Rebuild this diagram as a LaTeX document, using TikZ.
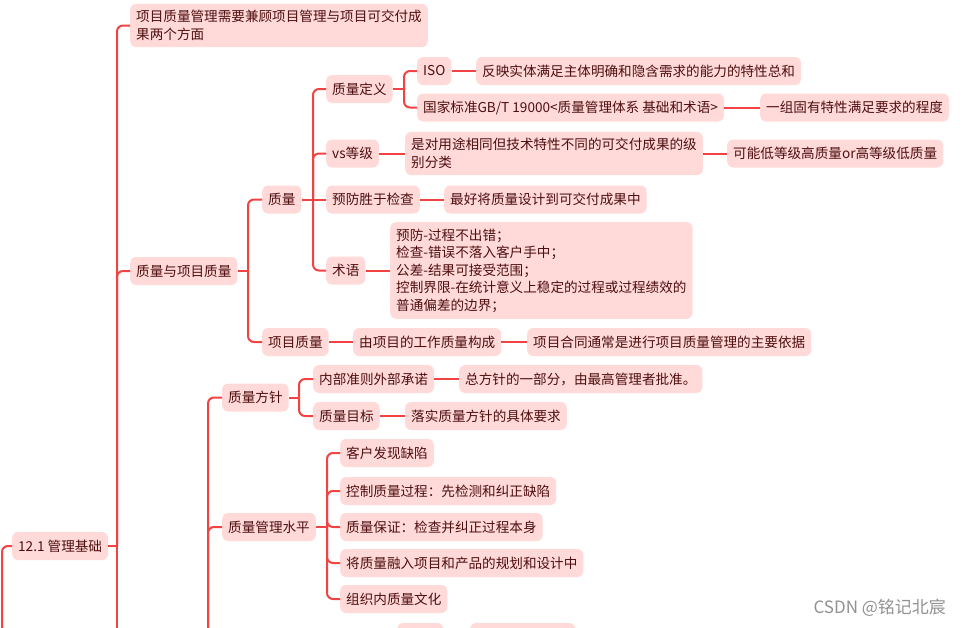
\documentclass[tikz,border=0pt]{standalone}
\usepackage{fontspec}
\setmainfont{Noto Sans CJK SC}
\usepackage{tikz}
\definecolor{linkred}{RGB}{242,66,66}
\definecolor{boxpink}{RGB}{255,218,216}
\definecolor{textbrown}{RGB}{78,14,14}
\definecolor{markgray}{RGB}{145,145,145}

\begin{document}
\begin{tikzpicture}[x=1pt, y=-1pt,
    topic/.style={fill=boxpink, text=textbrown, rounded corners=6pt, anchor=west,
        inner xsep=6pt, inner ysep=6.5pt, minimum height=28pt, align=left,
        font=\fontsize{13.6}{17.5}\selectfont},
    link/.style={draw=linkred, line width=2pt, rounded corners=6pt}]
    \useasboundingbox (0,0) rectangle (968,627);
    \clip (0,0) rectangle (968,627);

    \node[topic] (root) at (12,546) {12.1 管理基础};
    \node[topic] (both) at (130,25.5) {项目质量管理需要兼顾项目管理与项目可交付成\\果两个方面};
    \node[topic] (qpq) at (130,271) {质量与项目质量};
    \node[topic] (q) at (262,199.5) {质量};
    \node[topic] (pq) at (262,342) {项目质量};
    \node[topic] (qdef) at (326,89) {质量定义};
    \node[topic] (vs) at (326,153.5) {vs等级};
    \node[topic] (prevent) at (326,199.5) {预防胜于检查};
    \node[topic] (term) at (326,270.5) {术语};
    \node[topic] (iso) at (417,71) {ISO};
    \node[topic] (isodef) at (476,71) {反映实体满足主体明确和隐含需求的能力的特性总和};
    \node[topic] (gb) at (417,107.5) {国家标准GB/T 19000<质量管理体系 基础和术语>};
    \node[topic] (gbdef) at (760,107.5) {一组固有特性满足要求的程度};
    \node[topic] (grade) at (405,153.5) {是对用途相同但技术特性不同的可交付成果的级\\别分类};
    \node[topic] (gradenote) at (727,153.5) {可能低等级高质量or高等级低质量};
    \node[topic] (design) at (444,199.5) {最好将质量设计到可交付成果中};
    \node[topic] (termlist) at (390,270.5) {预防-过程不出错；\\检查-错误不落入客户手中；\\公差-结果可接受范围；\\控制界限-在统计意义上稳定的过程或过程绩效的\\普通偏差的边界；};
    \node[topic] (work) at (353,342) {由项目的工作质量构成};
    \node[topic] (contract) at (527,342) {项目合同通常是进行项目质量管理的主要依据};
    \node[topic] (policy) at (222,397.5) {质量方针};
    \node[topic] (inner) at (313,379) {内部准则外部承诺};
    \node[topic] (innerdef) at (459,379) {总方针的一部分，由最高管理者批准。};
    \node[topic] (goal) at (313,416) {质量目标};
    \node[topic] (goaldef) at (405,416) {落实质量方针的具体要求};
    \node[topic] (level) at (222,527) {质量管理水平};
    \node[topic] (lvla) at (340,453) {客户发现缺陷};
    \node[topic] (lvlb) at (340,491) {控制质量过程：先检测和纠正缺陷};
    \node[topic] (lvlc) at (340,527) {质量保证：检查并纠正过程本身};
    \node[topic] (lvld) at (340,563) {将质量融入项目和产品的规划和设计中};
    \node[topic] (lvle) at (340,599) {组织内质量文化};
    \node[topic, minimum width=46pt] (cuta) at (397,637) {};
    \node[topic, minimum width=105pt] (cutb) at (470,637) {};
    \node[font=\fontsize{17}{20}\selectfont, text=markgray, anchor=west] (mark) at (810,608) {CSDN @铭记北宸};

    \coordinate (rootin) at (2,640);
    \coordinate (t1) at (117,546);
    \coordinate (t1down) at (117,640);
    \coordinate (t2) at (248,271);
    \coordinate (t2q) at (313,199.5);
    \coordinate (t2d) at (404,89);
    \coordinate (t3) at (208,640);
    \coordinate (t3p) at (299,397.5);
    \coordinate (t3l) at (327,527);

    \draw[link] (rootin) |- (root.west);
    \draw[link] (root) -- (t1);
    \draw[link] (t1) -- (t1down);
    \foreach \n in {both, qpq}
        \draw[link] (t1) |- (\n.west);
    \draw[link] (qpq) -- (t2);
    \foreach \n in {q, pq}
        \draw[link] (t2) |- (\n.west);
    \draw[link] (q) -- (prevent);
    \foreach \n in {qdef, vs, term}
        \draw[link] (t2q) |- (\n.west);
    \draw[link] (qdef) -- (t2d);
    \foreach \n in {iso, gb}
        \draw[link] (t2d) |- (\n.west);
    \draw[link] (iso) -- (isodef);
    \draw[link] (gb) -- (gbdef);
    \draw[link] (vs) -- (grade);
    \draw[link] (grade) -- (gradenote);
    \draw[link] (prevent) -- (design);
    \draw[link] (term) -- (termlist);
    \draw[link] (pq) -- (work);
    \draw[link] (work) -- (contract);
    \foreach \n in {policy, level}
        \draw[link] (t3) |- (\n.west);
    \draw[link] (policy) -- (t3p);
    \foreach \n in {inner, goal}
        \draw[link] (t3p) |- (\n.west);
    \draw[link] (inner) -- (innerdef);
    \draw[link] (goal) -- (goaldef);
    \draw[link] (level) -- (t3l);
    \foreach \n in {lvla, lvlb, lvlc, lvld, lvle}
        \draw[link] (t3l) |- (\n.west);
\end{tikzpicture}
\end{document}
